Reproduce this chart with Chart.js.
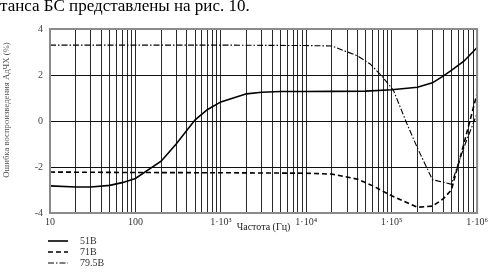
<!DOCTYPE html>
<html><head><meta charset="utf-8">
<script src="https://cdn.jsdelivr.net/npm/chart.js@4/dist/chart.umd.min.js"></script>
<style>
html,body{margin:0;padding:0;background:#fff}
#wrap{position:relative;width:491px;height:272px;overflow:hidden}
#hdr{position:absolute;left:0;top:-4px;font:17px "Liberation Serif",serif;color:#000;white-space:nowrap}
canvas{position:absolute;left:0;top:0}
</style></head>
<body><div id="wrap"><canvas id="c" width="491" height="272"></canvas><div id="hdr">танса БС представлены на рис. 10.</div></div>
<script>
const seriesNames = ['51В', '71В', '79.5В'];
const freq51 = [10,20,30,50,70,100,200,300,500,700,1000,2000,3000,5000,1e4,2e4,5e4,1e5,2e5,3e5,4e5,5e5,7e5,1e6];
const val51  = [-2.82,-2.87,-2.87,-2.8,-2.68,-2.5,-1.75,-1.0,0.05,0.5,0.83,1.18,1.25,1.28,1.28,1.29,1.3,1.36,1.47,1.66,1.95,2.2,2.6,3.19];
const freq71 = [10,100,1000,1e4,2e4,4e4,6e4,1e5,2e5,3e5,4e5,5e5,7e5,1e6];
const val71  = [-2.22,-2.24,-2.25,-2.27,-2.31,-2.53,-2.82,-3.25,-3.75,-3.7,-3.39,-3.0,-1.0,1.2];
const freq795 = [10,100,1000,1e4,2e4,4e4,5.6e4,7.6e4,1.05e5,1.5e5,2e5,3e5,5e5,7e5,1e6];
const val795  = [3.3,3.3,3.3,3.28,3.26,2.83,2.48,1.97,1.33,-0.1,-1.17,-2.55,-2.75,-1.15,0.33];
const xTickLabels = {10:'10',100:'100',1000:'1·10³',10000:'1·10⁴',100000:'1·10⁵',1000000:'1·10⁶'};
const yTicks = [-4,-2,0,2,4];
const xTitle = 'Частота (Гц)';
const yTitle = 'Ошибка воспроизведения АдЧХ (%)';

const pts = (f,v) => f.map((x,i)=>({x:x,y:v[i]}));
const serif = '"Liberation Serif", serif';

const decor = {
  id:'decor',
  afterDraw(chart){
    const ctx = chart.ctx, a = chart.chartArea;
    ctx.save();
    ctx.strokeStyle = '#8a8a8a'; ctx.lineWidth = 2;
    ctx.strokeRect(a.left, a.top, a.right-a.left, a.bottom-a.top);
    ctx.fillStyle = '#222';
    ctx.font = '10px ' + serif;
    ctx.textAlign = 'center'; ctx.textBaseline = 'middle';
    ctx.fillText(xTitle, (a.left+a.right)/2, 227);
    ctx.save();
    ctx.translate(7, 110); ctx.rotate(-Math.PI/2);
    ctx.fillStyle = '#555';
    ctx.font = '8.7px ' + serif;
    ctx.fillText(yTitle, 0, 0);
    ctx.restore();
    chart.data.datasets.forEach((ds,i)=>{
      const y = 241 + i*11;
      ctx.beginPath();
      ctx.setLineDash(ds.borderDash || []);
      ctx.strokeStyle = ds.borderColor; ctx.lineWidth = ds.borderWidth;
      ctx.moveTo(48, y); ctx.lineTo(68, y); ctx.stroke();
      ctx.setLineDash([]);
      ctx.fillStyle = '#333'; ctx.textAlign = 'left';
      ctx.font = '10px ' + serif;
      ctx.fillText(ds.label, 80, y);
    });
    ctx.restore();
  }
};

new Chart(document.getElementById('c'), {
  type:'line',
  data:{datasets:[
    {label:seriesNames[0], data:pts(freq51,val51), borderColor:'#000', borderWidth:1.6, pointRadius:0, tension:0},
    {label:seriesNames[1], data:pts(freq71,val71), borderColor:'#000', borderWidth:1.6, borderDash:[5,3], pointRadius:0, tension:0},
    {label:seriesNames[2], data:pts(freq795,val795), borderColor:'#000', borderWidth:1.1, borderDash:[6,2,1.5,2], pointRadius:0, tension:0}
  ]},
  options:{
    responsive:false, animation:false, devicePixelRatio:1,
    layout:{padding:{top:29,right:11,left:0,bottom:0}},
    plugins:{legend:{display:false}, tooltip:{enabled:false}},
    scales:{
      x:{
        type:'logarithmic', min:10, max:1e6,
        afterBuildTicks(s){
          const t=[];
          for(let d=10; d<1e6; d*=10){ for(let m=1;m<=9;m++){ t.push({value:m*d}); } }
          t.push({value:1e6});
          s.ticks = t;
        },
        afterFit(s){ s.height = 59; },
        border:{display:false},
        grid:{color:'#2a2a2a', lineWidth:1, drawTicks:false},
        ticks:{autoSkip:false, maxRotation:0, padding:3, color:'#333',
          font:{family:serif, size:10},
          callback(v){ return xTickLabels[Math.round(v)] || ''; }}
      },
      y:{
        min:-4, max:4,
        afterBuildTicks(s){ s.ticks = yTicks.map(v=>({value:v})); },
        afterFit(s){ s.width = 50; },
        border:{display:false},
        grid:{color:'#111', lineWidth:1, drawTicks:false},
        ticks:{padding:7, color:'#444', font:{family:serif, size:10},
          callback(v){ return String(v); }}
      }
    }
  },
  plugins:[decor]
});
</script>
</body></html>
